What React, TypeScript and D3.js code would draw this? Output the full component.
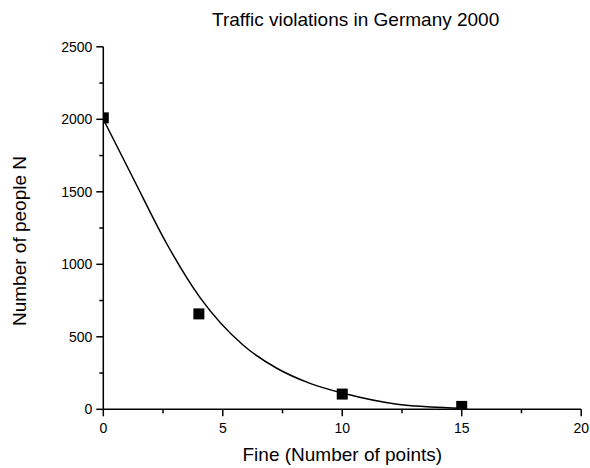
import React from "react";
import * as d3 from "d3";

const fineValues = [0, 4, 10, 15];
const peopleCounts = [2010, 658, 105, 20];

const fitX = [0, 1.26, 2.66, 4.05, 5.87, 7.26, 8.65, 10.05, 12.3, 13.7, 15];
const fitY = [2000, 1590, 1140, 770, 440, 283, 179, 110, 35, 16, 8];

const xTicks = [0, 5, 10, 15, 20];
const xMinor = [2.5, 7.5, 12.5, 17.5];
const yTicks = [0, 500, 1000, 1500, 2000, 2500];
const yMinor = [250, 750, 1250, 1750, 2250];

const titleText = "Traffic violations in Germany 2000";
const xTitle = "Fine (Number of points)";
const yTitle = "Number of people N";

export default function App() {
  const W = 590, H = 468;
  const left = 103.3, right = 581.2, top = 46.8, bottom = 409.3;
  const x = d3.scaleLinear().domain([0, 20]).range([left, right]);
  const y = d3.scaleLinear().domain([0, 2500]).range([bottom, top]);
  const line = d3
    .line<number>()
    .x((_, i) => x(fitX[i]))
    .y((d) => y(d))
    .curve(d3.curveMonotoneX);
  const font = "Liberation Sans, Arial, sans-serif";
  const sq = 11;
  return (
    <svg width={W} height={H} style={{ position: "absolute", left: 0, top: 0, background: "#fff" }}>
      <defs>
        <clipPath id="plot">
          <rect x={left} y={top - 10} width={right - left} height={bottom - top + 10} />
        </clipPath>
      </defs>
      <rect width={W} height={H} fill="#fff" />
      <text x={212} y={26} fontFamily={font} fontSize={19} textAnchor="start" fill="#000">
        {titleText}
      </text>
      <g clipPath="url(#plot)">
        <path d={line(fitY) || ""} fill="none" stroke="#000" strokeWidth={1.5} />
        {fineValues.map((v, i) => (
          <rect
            key={i}
            x={x(v) - sq / 2}
            y={y(peopleCounts[i]) - sq / 2}
            width={sq}
            height={sq}
            fill="#000"
          />
        ))}
      </g>
      <line x1={left} x2={left} y1={top} y2={bottom} stroke="#000" strokeWidth={1.5} />
      <line x1={left} x2={right} y1={bottom} y2={bottom} stroke="#000" strokeWidth={1.5} />
      {yTicks.map((t) => (
        <g key={"y" + t}>
          <line x1={left - 7} x2={left} y1={y(t)} y2={y(t)} stroke="#000" strokeWidth={1.5} />
          <text x={left - 11} y={y(t) + 5} fontFamily={font} fontSize={14} textAnchor="end">
            {t}
          </text>
        </g>
      ))}
      {yMinor.map((t) => (
        <line key={"ym" + t} x1={left - 4} x2={left} y1={y(t)} y2={y(t)} stroke="#000" strokeWidth={1.5} />
      ))}
      {xTicks.map((t) => (
        <g key={"x" + t}>
          <line x1={x(t)} x2={x(t)} y1={bottom} y2={bottom + 7} stroke="#000" strokeWidth={1.5} />
          <text x={x(t)} y={bottom + 24} fontFamily={font} fontSize={14} textAnchor="middle">
            {t}
          </text>
        </g>
      ))}
      {xMinor.map((t) => (
        <line key={"xm" + t} x1={x(t)} x2={x(t)} y1={bottom} y2={bottom + 4} stroke="#000" strokeWidth={1.5} />
      ))}
      <text x={242.5} y={461} fontFamily={font} fontSize={19} textAnchor="start">
        {xTitle}
      </text>
      <text
        transform={`translate(26, ${241}) rotate(-90)`}
        fontFamily={font}
        fontSize={19}
        textAnchor="middle"
      >
        {yTitle}
      </text>
    </svg>
  );
}
